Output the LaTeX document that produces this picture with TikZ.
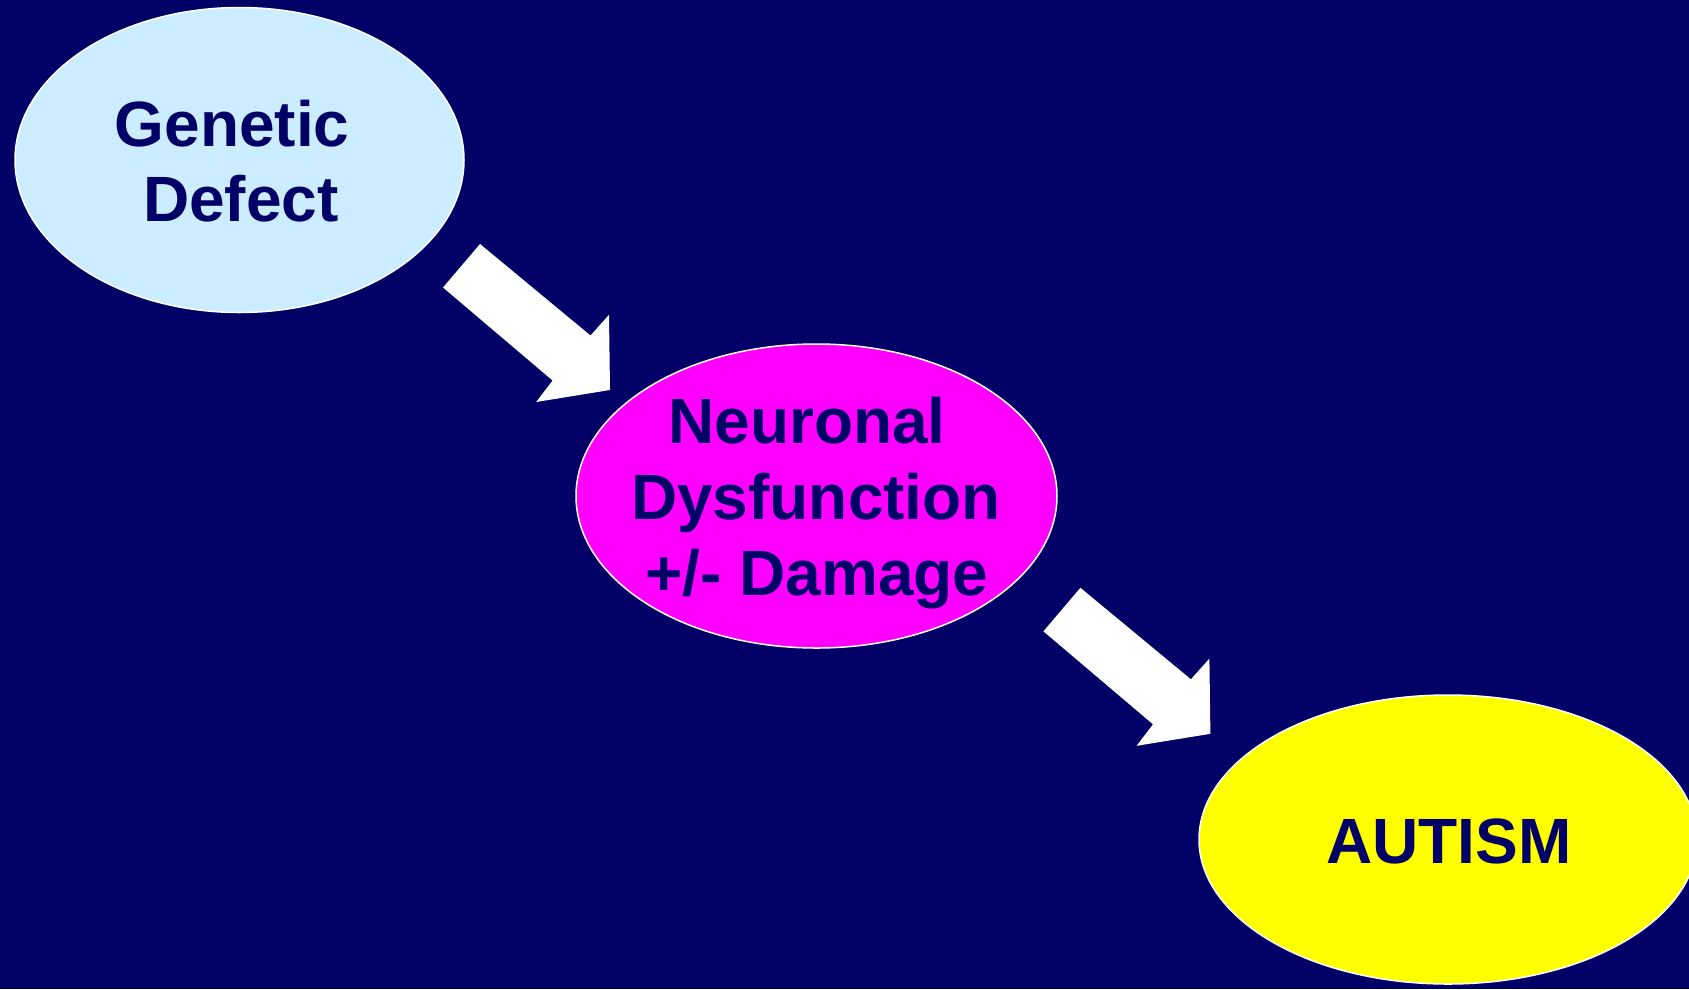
\documentclass[tikz,border=0pt]{standalone}
\usepackage{fontspec}
\setmainfont{Liberation Sans}
\usetikzlibrary{shapes.geometric}
\definecolor{bgnavy}{RGB}{0,0,102}
\definecolor{paleblue}{RGB}{204,236,255}
\definecolor{brightmagenta}{RGB}{255,0,255}
\definecolor{brightyellow}{RGB}{255,255,0}
\tikzset{
  blockarrow/.pic={
    \fill[white] (0,0) -- (110.5,91.5) -- (129,70.8) -- (130,146) -- (56.2,158) -- (72.6,136.5) -- (-37,43.5) -- cycle;
  }
}
\begin{document}
\begin{tikzpicture}[x=1pt,y=-1pt,
  bubble/.style={ellipse, draw=white, line width=1.5pt, inner sep=0pt},
  lbl/.style={anchor=base, inner sep=0pt, text=bgnavy, font=\fontsize{64}{76}\selectfont\bfseries}]
\useasboundingbox (0,0) rectangle (1689,989);
\clip (0,0) rectangle (1689,989);
\fill[bgnavy] (0,0) rectangle (1689,989);

\node[bubble, fill=paleblue, minimum width=449pt, minimum height=305pt] (gen) at (239.5,160) {};
\node[bubble, fill=brightmagenta, minimum width=481pt, minimum height=304pt] (neu) at (816.5,496) {};
\node[bubble, fill=brightyellow, minimum width=498pt, minimum height=289pt] (aut) at (1448,839.5) {};

\node[lbl] (gen1) at (232,146.7) {Genetic};
\node[lbl] (gen2) at (241,221.7) {Defect};
\node[lbl] (neu1) at (807,443.3) {Neuronal};
\node[lbl] (neu2) at (816,519) {Dysfunction};
\node[lbl] (neu3) at (817,595.7) {+/- Damage};
\node[lbl] (aut1) at (1449,863.3) {AUTISM};

\coordinate (a1) at (480,244);
\coordinate (a2) at (1080.4,587.8);
\pic at (a1) {blockarrow};
\pic at (a2) {blockarrow};
\end{tikzpicture}
\end{document}
